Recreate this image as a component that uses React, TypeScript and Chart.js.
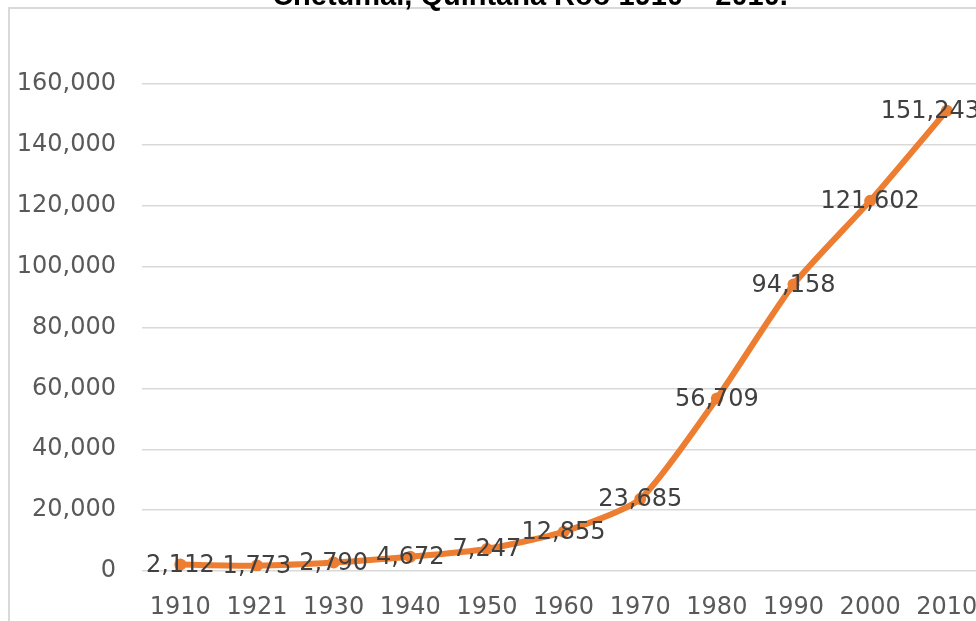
import React, { useEffect, useRef } from "react";
import { Chart, registerables } from "chart.js";

Chart.register(...registerables);

const years = ["1910", "1921", "1930", "1940", "1950", "1960", "1970", "1980", "1990", "2000", "2010"];
const population = [2112, 1773, 2790, 4672, 7247, 12855, 23685, 56709, 94158, 121602, 151243];
const titleText = "Chetumal, Quintana Roo 1910 – 2010.";

const ORANGE = "#ED7D31";
const FONT = "'DejaVu Sans', sans-serif";

const fmt = (v: number) => v.toLocaleString("en-US");

const decorPlugin = {
  id: "decor",
  beforeDraw(chart: any) {
    const ctx = chart.ctx;
    ctx.save();
    ctx.fillStyle = "#ffffff";
    ctx.fillRect(0, 0, chart.width, chart.height);
    ctx.strokeStyle = "#d9d9d9";
    ctx.lineWidth = 2;
    ctx.beginPath();
    ctx.moveTo(9, chart.height + 5);
    ctx.lineTo(9, 8);
    ctx.lineTo(chart.width + 5, 8);
    ctx.stroke();
    ctx.fillStyle = "#000000";
    ctx.font = "bold 29px 'Liberation Sans', Arial, sans-serif";
    ctx.textAlign = "center";
    ctx.textBaseline = "alphabetic";
    ctx.fillText(titleText, 530, 5);
    ctx.restore();
  },
  afterDatasetsDraw(chart: any) {
    const ctx = chart.ctx;
    const meta = chart.getDatasetMeta(0);
    const data = chart.data.datasets[0].data as number[];
    ctx.save();
    ctx.font = "24px " + FONT;
    ctx.fillStyle = "#404040";
    ctx.textAlign = "center";
    ctx.textBaseline = "middle";
    const rightLimit = 980;
    meta.data.forEach((pt: any, i: number) => {
      const txt = fmt(data[i]);
      const w = ctx.measureText(txt).width;
      let x = pt.x;
      if (x + w / 2 > rightLimit) x = rightLimit - w / 2;
      ctx.fillText(txt, x, pt.y + 1);
    });
    ctx.restore();
  },
};

export default function App() {
  const ref = useRef<HTMLCanvasElement>(null);
  useEffect(() => {
    document.body.style.margin = "0";
    document.body.style.overflow = "hidden";
    const chart = new Chart(ref.current!, {
      type: "line",
      data: {
        labels: years,
        datasets: [
          {
            data: population,
            borderColor: ORANGE,
            backgroundColor: ORANGE,
            borderWidth: 6,
            tension: 0.2,
            pointRadius: 6,
            pointBackgroundColor: ORANGE,
            pointBorderColor: ORANGE,
            pointBorderWidth: 0,
            fill: false,
          },
        ],
      },
      options: {
        responsive: false,
        animation: false,
        devicePixelRatio: 1,
        layout: { padding: { top: 84, right: 14.3, bottom: 0, left: 0 } },
        plugins: {
          legend: { display: false },
          tooltip: { enabled: false },
          title: { display: false },
        },
        scales: {
          x: {
            offset: true,
            grid: { display: false, drawTicks: false },
            border: { display: false },
            ticks: {
              color: "#595959",
              font: { family: FONT, size: 24 },
              padding: 22,
              maxRotation: 0,
              autoSkip: false,
            },
            afterFit(scale: any) {
              scale.height = 50;
            },
          },
          y: {
            min: 0,
            max: 160000,
            grid: { color: "#d9d9d9", lineWidth: 1.5, drawTicks: false },
            border: { display: false },
            ticks: {
              stepSize: 20000,
              color: "#595959",
              font: { family: FONT, size: 24 },
              padding: 26,
              callback: (v: any) => fmt(Number(v)),
            },
            afterFit(scale: any) {
              scale.width = 142;
            },
          },
        },
      },
      plugins: [decorPlugin],
    });
    return () => chart.destroy();
  }, []);
  return (
    <div style={{ position: "fixed", left: 0, top: 0, width: 976, height: 621, overflow: "hidden", background: "#fff" }}>
      <canvas ref={ref} width={1000} height={621} style={{ display: "block" }} />
    </div>
  );
}
